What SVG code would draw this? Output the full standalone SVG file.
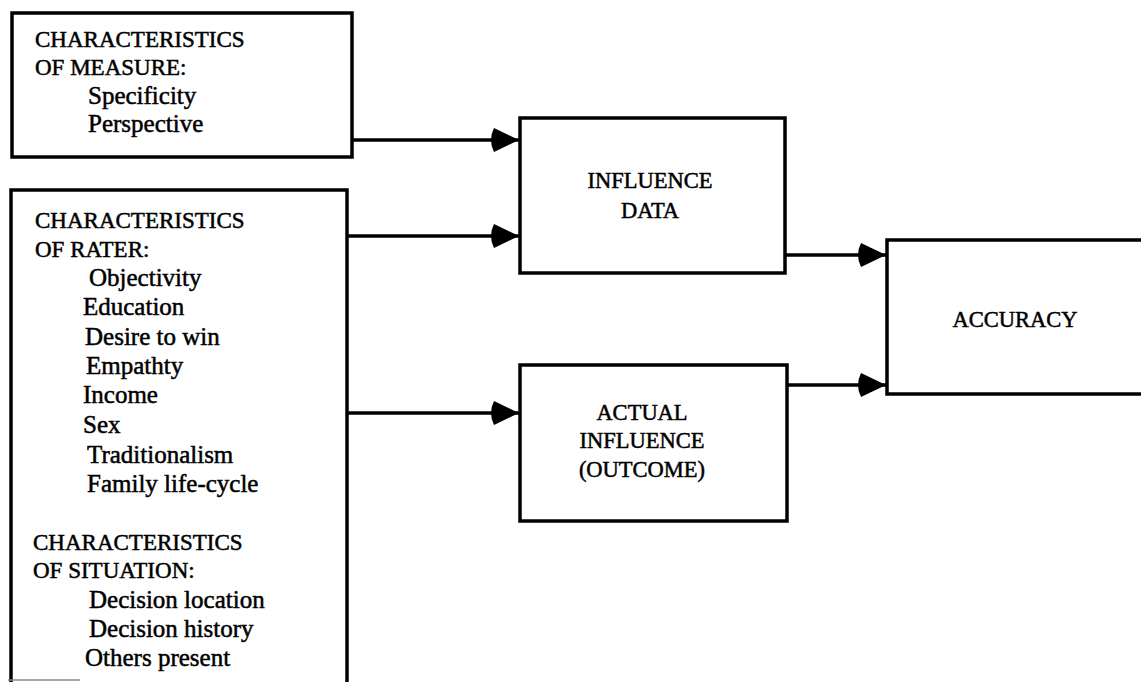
<svg xmlns="http://www.w3.org/2000/svg" width="1141" height="682" viewBox="0 0 1141 682">
  <style>
    .box { fill: #fff; stroke: #000; stroke-width: 3.5; }
    .link { fill: none; stroke: #000; stroke-width: 3.5; }
    text { font-family: "Liberation Serif", "Times New Roman", serif; fill: #000; stroke: #000; stroke-width: 0.5; }
    .head { font-size: 23px; }
    .item { font-size: 25px; }
    .mid { font-size: 22.5px; text-anchor: middle; }
  </style>
  <defs>
    <marker id="arrow" markerUnits="userSpaceOnUse" markerWidth="32" markerHeight="28" viewBox="-30 -14 32 28" refX="0" refY="0" orient="auto">
      <path d="M0,0 L-25,-12 Q-31,0 -25,12 Z" fill="#000"/>
    </marker>
  </defs>
  <rect width="1141" height="682" fill="#fff"/>

  <g id="connectors">
    <path class="link" d="M352,140 H519" marker-end="url(#arrow)"/>
    <path class="link" d="M347,236 H519" marker-end="url(#arrow)"/>
    <path class="link" d="M347,413 H519" marker-end="url(#arrow)"/>
    <path class="link" d="M785,255 H886" marker-end="url(#arrow)"/>
    <path class="link" d="M787,385 H886" marker-end="url(#arrow)"/>
  </g>

  <g id="measure">
    <rect class="box" x="12" y="13" width="340" height="144"/>
    <text class="head" x="35" y="47">CHARACTERISTICS</text>
    <text class="head" x="35" y="75">OF MEASURE:</text>
    <text class="item" x="88" y="104">Specificity</text>
    <text class="item" x="88" y="132">Perspective</text>
  </g>

  <g id="rater-situation">
    <rect class="box" x="11" y="190" width="336" height="520"/>
    <line x1="8" y1="680" x2="80" y2="680" stroke="#888" stroke-width="1.5"/>
    <text class="head" x="35" y="228">CHARACTERISTICS</text>
    <text class="head" x="35" y="257">OF RATER:</text>
    <text class="item" x="89" y="286">Objectivity</text>
    <text class="item" x="83" y="315">Education</text>
    <text class="item" x="85" y="345">Desire to win</text>
    <text class="item" x="86" y="374">Empathty</text>
    <text class="item" x="83" y="403">Income</text>
    <text class="item" x="83" y="433">Sex</text>
    <text class="item" x="87" y="463">Traditionalism</text>
    <text class="item" x="87" y="492">Family life-cycle</text>
    <text class="head" x="33" y="550">CHARACTERISTICS</text>
    <text class="head" x="33" y="578">OF SITUATION:</text>
    <text class="item" x="89" y="608">Decision location</text>
    <text class="item" x="89" y="637">Decision history</text>
    <text class="item" x="85" y="666">Others present</text>
  </g>

  <g id="influence-data">
    <rect class="box" x="520" y="118" width="265" height="155"/>
    <text class="mid" x="650" y="188">INFLUENCE</text>
    <text class="mid" x="650" y="218">DATA</text>
  </g>

  <g id="actual-influence">
    <rect class="box" x="520" y="365" width="267" height="156"/>
    <text class="mid" x="642" y="420">ACTUAL</text>
    <text class="mid" x="642" y="448">INFLUENCE</text>
    <text class="mid" x="642" y="477">(OUTCOME)</text>
  </g>

  <g id="accuracy">
    <rect class="box" x="887" y="240" width="300" height="154"/>
    <text class="mid" x="1015" y="327">ACCURACY</text>
  </g>
</svg>
